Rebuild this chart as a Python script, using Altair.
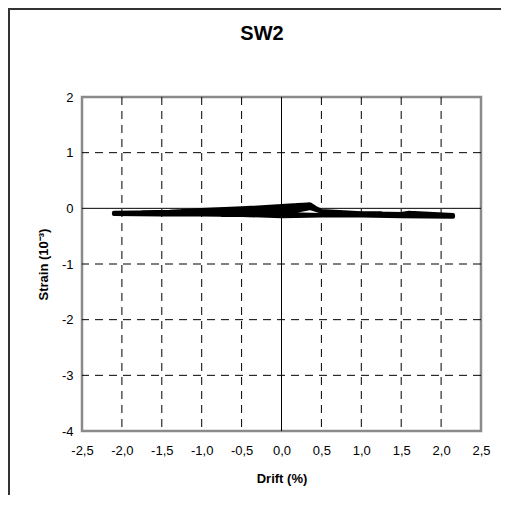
import altair as alt
import pandas as pd

# Hysteresis trace (drift %, strain 1e-3)
drift = [0.0, 0.2, 0.35, 0.35, 0.2, 0.0, -0.25, -0.5, -0.5, -0.25, 0.0,
         0.2, 0.35, 0.37, 0.5, 0.75, 0.75, 0.5, 0.25, 0.0, -0.5, -0.75, -0.75, -0.5, -0.25, 0.0,
         0.2, 0.35, 0.37, 0.5, 1.0, 1.0, 0.5, 0.0, -0.5, -1.0, -1.0, -0.5, 0.0,
         0.2, 0.35, 0.38, 0.5, 1.0, 1.25, 1.25, 1.0, 0.5, 0.0, -0.5, -1.0, -1.25, -1.25, -1.0, -0.5, 0.0,
         0.2, 0.36, 0.5, 1.0, 1.5, 1.5, 1.0, 0.5, 0.0, -0.5, -1.0, -1.5, -1.5, -1.0, -0.5, 0.0,
         0.2, 0.36, 0.5, 1.0, 1.5, 1.6, 1.75, 1.75, 1.5, 1.0, 0.5, 0.0, -1.0, -1.5, -1.75, -1.75, -1.4, -1.0, -0.5, 0.0,
         0.3, 0.36, 0.5, 1.0, 1.5, 1.6, 2.15, 2.15, 1.5, 1.0, 0.5, 0.0, -0.5, -1.0, -1.5, -2.1, -2.1, -1.5, -1.0, -0.5, 0.0]
strain = [0.02, 0.05, 0.06, 0.0, -0.04, -0.08, -0.1, -0.11, -0.04, -0.01, 0.02,
          0.06, 0.07, 0.01, -0.05, -0.07, -0.12, -0.12, -0.11, -0.11, -0.12, -0.12, -0.05, -0.02, 0.01, 0.04,
          0.06, 0.07, 0.0, -0.06, -0.09, -0.13, -0.13, -0.14, -0.12, -0.11, -0.07, -0.05, -0.03,
          0.03, 0.06, 0.01, -0.06, -0.09, -0.09, -0.13, -0.13, -0.12, -0.13, -0.12, -0.11, -0.11, -0.05, -0.03, 0.0, 0.04,
          0.06, 0.07, -0.06, -0.09, -0.1, -0.14, -0.13, -0.12, -0.1, -0.1, -0.11, -0.11, -0.08, -0.06, -0.06, -0.06,
          0.0, 0.06, -0.05, -0.09, -0.1, -0.08, -0.1, -0.14, -0.14, -0.13, -0.12, -0.12, -0.11, -0.11, -0.11, -0.07, -0.06, -0.03, 0.0, 0.04,
          0.06, 0.06, -0.06, -0.09, -0.1, -0.08, -0.12, -0.15, -0.14, -0.13, -0.12, -0.12, -0.12, -0.11, -0.11, -0.1, -0.08, -0.07, -0.05, -0.02, 0.03]

x_ticks = [-2.5, -2.0, -1.5, -1.0, -0.5, 0.0, 0.5, 1.0, 1.5, 2.0, 2.5]
y_ticks = [-4, -3, -2, -1, 0, 1, 2]
x_grid = [-2.0, -1.5, -1.0, -0.5, 0.5, 1.0, 1.5, 2.0]
y_grid = [1, -1, -2, -3]

FONT = "Liberation Sans"
W, H = 399, 334

xs = alt.Scale(domain=[-2.5, 2.5], nice=False, zero=False)
ys = alt.Scale(domain=[-4, 2], nice=False, zero=False)

XAX = alt.Axis(values=x_ticks, labelOverlap=False, labelFlush=False, title="Drift (%)",
               labelExpr="replace(replace(format(datum.value, '.1f'), '.', ','), '\u2212', '-')",
               labelPadding=13, titlePadding=15)
YAX = alt.Axis(values=y_ticks, labelOverlap=False, labelFlush=False, title="Strain (10⁻³)",
               labelExpr="replace(format(datum.value, 'd'), '\u2212', '-')",
               labelPadding=9, titlePadding=11)


def X():
    return alt.X("drift:Q", scale=xs, axis=XAX)


def Y():
    return alt.Y("strain:Q", scale=ys, axis=YAX)


df = pd.DataFrame({"drift": drift, "strain": strain, "i": range(len(drift))})
one = pd.DataFrame({"a": [0]})

frame_top = alt.Chart(one).mark_rule(color="#333333", strokeWidth=2).encode(
    x=alt.value(-74), x2=alt.value(430), y=alt.value(-88), y2=alt.value(-88))
frame_left = alt.Chart(one).mark_rule(color="#333333", strokeWidth=2).encode(
    x=alt.value(-73), x2=alt.value(-73), y=alt.value(-89), y2=alt.value(430))

vgrid = alt.Chart(pd.DataFrame({"drift": x_grid})).mark_rule(
    color="#000", strokeWidth=1, strokeDash=[8, 6]).encode(x=X())
hgrid = alt.Chart(pd.DataFrame({"strain": y_grid})).mark_rule(
    color="#000", strokeWidth=1, strokeDash=[8, 6]).encode(y=Y())
zx = alt.Chart(pd.DataFrame({"drift": [0.0]})).mark_rule(color="#000", strokeWidth=1).encode(x=X())
zy = alt.Chart(pd.DataFrame({"strain": [0.0]})).mark_rule(color="#000", strokeWidth=1).encode(y=Y())

line = alt.Chart(df).mark_line(color="#000", strokeWidth=4, strokeJoin="round",
                               strokeCap="round").encode(x=X(), y=Y(), order="i:Q")

title = alt.Chart(pd.DataFrame({"t": ["SW2"]})).mark_text(
    font=FONT, fontSize=20, fontWeight="bold", color="#000"
).encode(text="t:N", x=alt.value(180), y=alt.value(-63))

chart = alt.layer(frame_top, frame_left, vgrid, hgrid, zx, zy, line, title).properties(
    width=W, height=H,
    autosize=alt.AutoSizeParams(type="none"),
    padding={"left": 74, "top": 89, "right": 20, "bottom": 64},
).configure_view(stroke="#8a8a8a", strokeWidth=2.5).configure_axis(
    ticks=False, domain=False, grid=False,
    labelFont=FONT, labelFontSize=13, labelColor="#000",
    titleFont=FONT, titleFontSize=13, titleFontWeight="bold", titleColor="#000",
)

chart.save("out.html", embed_options={"renderer": "svg", "actions": False})
